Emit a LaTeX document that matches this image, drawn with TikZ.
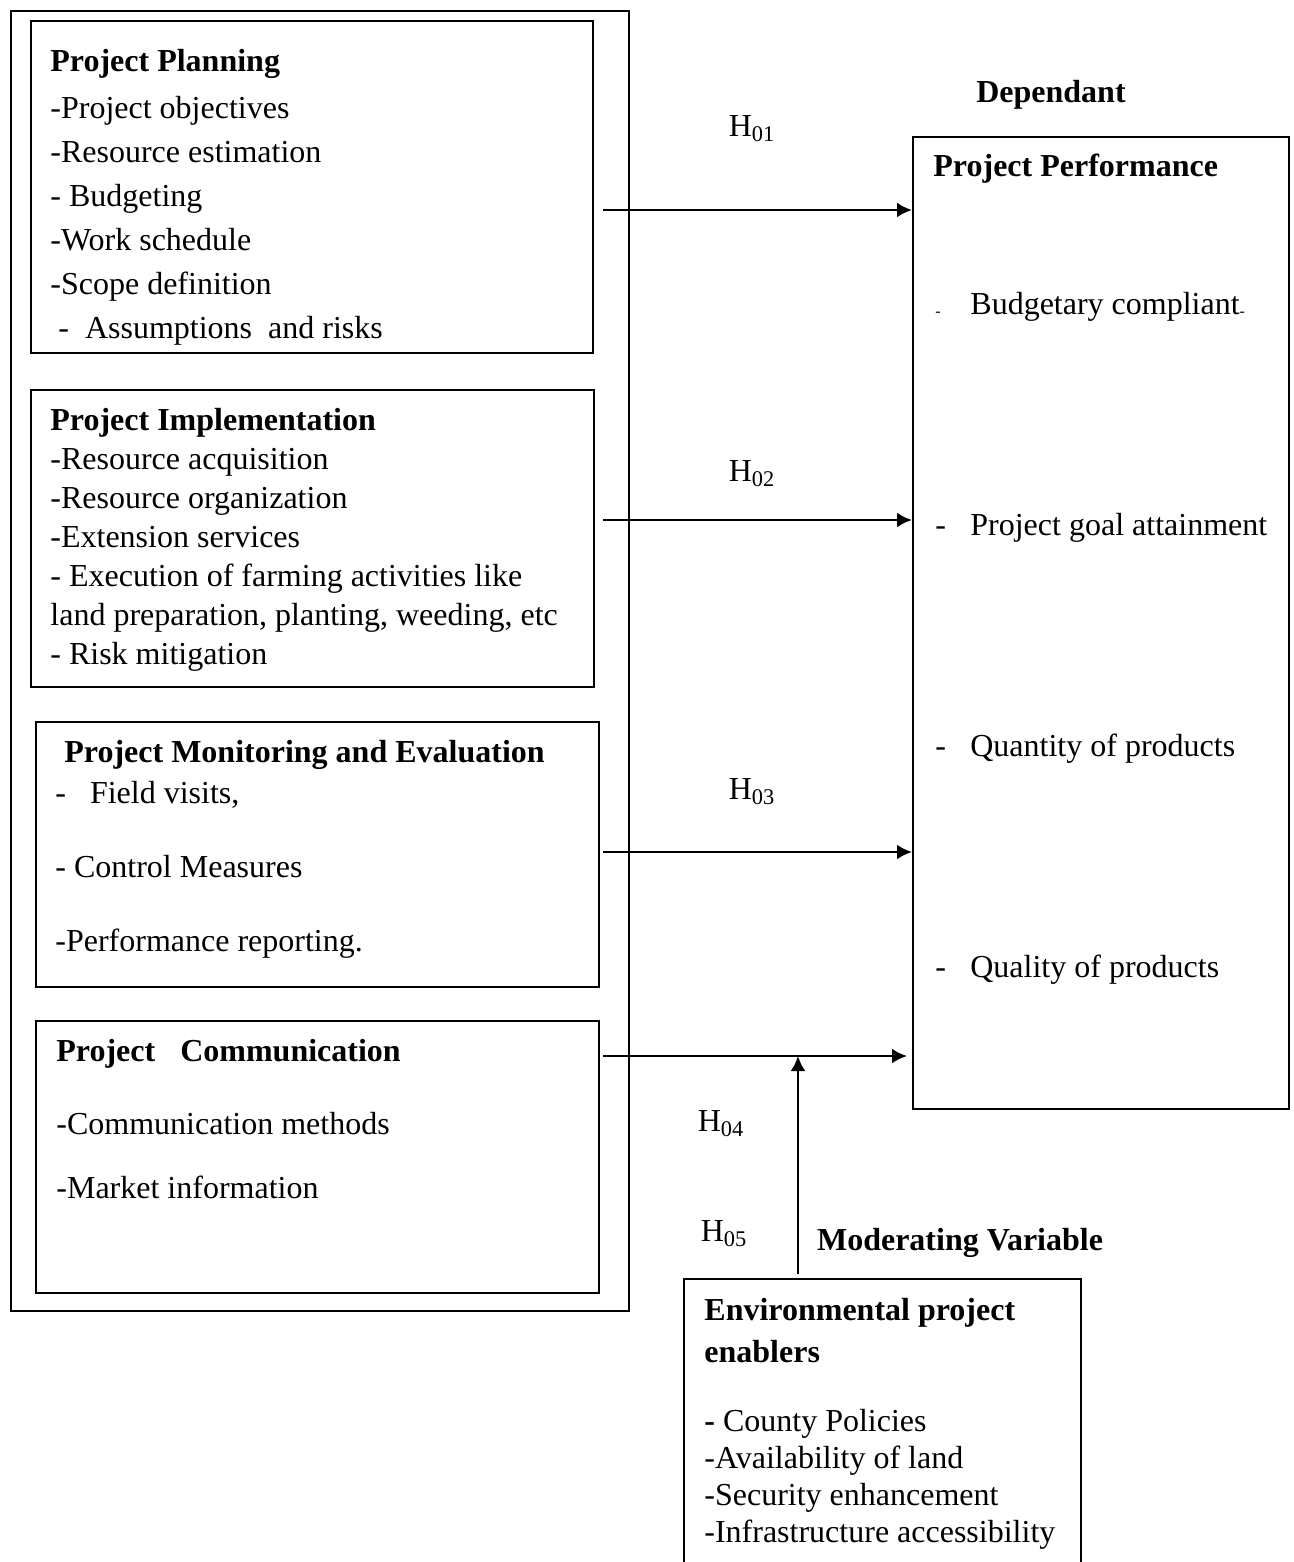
\documentclass[tikz,border=0pt]{standalone}
\usepackage{fontspec}
\setmainfont{Liberation Serif}
\usetikzlibrary{positioning}
\usetikzlibrary{arrows.meta}

\begin{document}
\begin{tikzpicture}[x=0.5pt,y=-0.5pt,draw=black]
		\tikzstyle{frame}=[draw=black, line width=1pt, anchor=north west, inner sep=0pt]
		\tikzstyle{body}=[anchor=north west, align=left, inner sep=0pt, font=\fontsize{16}{22}\selectfont]
		\tikzstyle{hyp}=[font=\fontsize{16}{19}\selectfont]
		\tikzstyle{head}=[font=\fontsize{16}{19}\selectfont\bfseries]
		\tikzstyle{link}=[->, line width=1.3pt, color=black]
		\tikzset{>={Latex[length=7.5pt,width=7.5pt]}}
		\useasboundingbox (0,0) rectangle (1294,1562);
		% independent variables
		\node[frame, minimum width=309pt, minimum height=650pt] (indep) at (10,10) {};
		\node[frame, minimum width=281pt, minimum height=166pt] (plan) at (30,20) {};
		\node[frame, minimum width=281.5pt, minimum height=148.5pt] (impl) at (30,389) {};
		\node[frame, minimum width=281.5pt, minimum height=132.5pt] (monit) at (35,721) {};
		\node[frame, minimum width=281.5pt, minimum height=136pt] (comm) at (35,1020) {};
		\node[body] (plantxt) at (50,49) {\textbf{Project Planning}\\[1.5pt]
			-Project objectives\\ -Resource estimation\\ - Budgeting\\ -Work schedule\\
			-Scope definition\\ \ -\ \ Assumptions\ \ and risks};
		\node[body, font=\fontsize{16}{19.5}\selectfont] (impltxt) at (50,408) {\textbf{Project Implementation}\\
			-Resource acquisition\\ -Resource organization\\ -Extension services\\
			- Execution of farming activities like\\ land preparation, planting, weeding, etc\\ - Risk mitigation};
		\node[body, font=\fontsize{16}{20.5}\selectfont] (monittxt) at (55,740) {\hspace*{4.5pt}\textbf{Project Monitoring and Evaluation}\\
			-\hspace{12pt}Field visits,\\[16.5pt] - Control Measures\\[16.5pt] -Performance reporting.};
		\node[body, font=\fontsize{16}{32}\selectfont] (commtxt) at (56,1039) {\textbf{Project\hspace{12.5pt}Communication}\\[4.5pt]
			-Communication methods\\ -Market information};
		% dependent variable
		\node[head] (dep) at (1051,95) {Dependant};
		\node[frame, minimum width=188pt, minimum height=486pt] (perf) at (912,136) {};
		\node[body, font=\fontsize{16}{19}\selectfont\bfseries] (perfhead) at (933,154) {Project Performance};
		\node[body, font=\fontsize{16}{110.5}\selectfont] (perftxt) at (935,292) {%
			\makebox[17.5pt][l]{\raisebox{-1pt}{\fontsize{8}{8}\selectfont -}}Budgetary compliant\raisebox{-1pt}{\fontsize{8}{8}\selectfont -}\\
			\makebox[17.5pt][l]{-}Project goal attainment\\
			\makebox[17.5pt][l]{-}Quantity of products\\
			\makebox[17.5pt][l]{-}Quality of products};
		% moderating variable
		\node[head] (moder) at (960,1243) {Moderating Variable};
		\node[frame, minimum width=198.5pt, minimum height=150pt] (env) at (683,1278) {};
		\node[body, font=\fontsize{16}{18.5}\selectfont] (envtxt) at (704,1298) {\textbf{Environmental project}\\[2.5pt]
			\textbf{enablers}\\[16pt] \textbf{-} County Policies\\ -Availability of land\\
			-Security enhancement\\ -Infrastructure accessibility};
		% hypotheses
		\node[hyp] (h1) at (752,129) {H\textsubscript{01}};
		\node[hyp] (h2) at (752,474) {H\textsubscript{02}};
		\node[hyp] (h3) at (752,792) {H\textsubscript{03}};
		\node[hyp] (h4) at (721,1124) {H\textsubscript{04}};
		\node[hyp] (h5) at (724,1234) {H\textsubscript{05}};
		\coordinate (s1) at (603,210);
		\coordinate (s2) at (603,520);
		\coordinate (s3) at (603,852);
		\coordinate (s4) at (603,1056);
		\coordinate (m4) at (798,1056);
		\path (s1) edge[link] (s1 -| perf.west);
		\path (s2) edge[link] (s2 -| perf.west);
		\path (s3) edge[link] (s3 -| perf.west);
		\path (s4) edge[link, shorten >=2.5pt] (s4 -| perf.west);
		\path ([yshift=2pt]env.north -| m4) edge[link] (m4);
	\end{tikzpicture}
\end{document}
